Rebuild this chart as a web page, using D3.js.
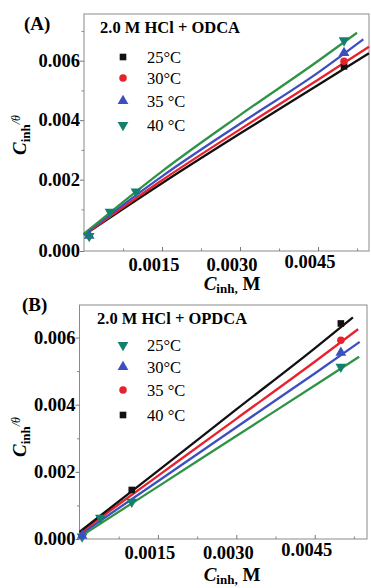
<!DOCTYPE html>
<html>
<head>
<meta charset="utf-8">
<script src="https://cdn.jsdelivr.net/npm/d3@7"></script>
<style>
  body { margin: 0; background: #fff; }
  svg { display: block; font-family: "Liberation Serif", "Times New Roman", serif; }
</style>
</head>
<body>
<svg id="chart" width="371" height="588"></svg>
<script>
// x ticks shared by both panels
const xTicks = [0.0015, 0.0030, 0.0045];
const xMinorTicks = [0.00075, 0.00225, 0.00375, 0.00525];
const yTickLabels = ["0.000", "0.002", "0.004", "0.006"];

// panel A: 2.0 M HCl + ODCA
const tempsA = ["25°C", "30°C", "35 °C", "40 °C"];
const yTicksA = [-0.0004, 0.002, 0.004, 0.006];
const yMinorA = [0.001, 0.003, 0.005, 0.007];
const lineA25 = [[0, 0.00014], [0.0015, 0.00188], [0.003, 0.00355], [0.0045, 0.00518], [0.00548, 0.00625]];
const lineA30 = [[0, 0.00014], [0.0015, 0.00198], [0.003, 0.00369], [0.0045, 0.00536], [0.00548, 0.00647]];
const lineA35 = [[0, 0.00016], [0.0015, 0.00211], [0.003, 0.00388], [0.0045, 0.0056], [0.00537, 0.00672]];
const lineA40 = [[0, 0.00018], [0.0015, 0.00228], [0.003, 0.00417], [0.0045, 0.00599], [0.00525, 0.00694]];
const markA25 = [[0.005, 0.00581]];
const markA30 = [[0.005, 0.00598]];
const markA35 = [[0.0001, 0.00012], [0.005, 0.00626]];
const markA40 = [[0.0001, 0.0001], [0.0005, 0.00092], [0.001, 0.0016], [0.005, 0.00668]];

// panel B: 2.0 M HCl + OPDCA
const tempsB = ["25°C", "30°C", "35 °C", "40 °C"];
const yTicksB = [0, 0.002, 0.004, 0.006];
const yMinorB = [0.001, 0.003, 0.005];
const lineB25 = [[0, 0.00006], [0.0015, 0.00156], [0.003, 0.00307], [0.0045, 0.00457], [0.00535, 0.00543]];
const lineB30 = [[0, 0.00012], [0.0015, 0.00172], [0.003, 0.00333], [0.0045, 0.00493], [0.00536, 0.00587]];
const lineB35 = [[0, 0.00018], [0.0015, 0.00188], [0.003, 0.00358], [0.0045, 0.00528], [0.00533, 0.00625]];
const lineB40 = [[0, 0.00021], [0.0015, 0.00203], [0.003, 0.00386], [0.0045, 0.00568], [0.00523, 0.0066]];
const markB25 = [[0.00005, 0.00007], [0.0004, 0.00063], [0.001, 0.00111], [0.005, 0.00513]];
const markB30 = [[0.00005, 0.0001], [0.005, 0.00555]];
const markB35 = [[0.005, 0.00592]];
const markB40 = [[0.001, 0.00146], [0.005, 0.00642]];

const colors = {
    black: "#111111",
    red: "#e8222c",
    blue: "#3d4fc0",
    green: "#2f9345",
    teal: "#13806e"
};

const square = {type: d3.symbolSquare, size: 44, rotate: 0};
const circle = {type: d3.symbolCircle, size: 44, rotate: 0};
const upTri = {type: d3.symbolTriangle, size: 50, rotate: 0};
const downTri = {type: d3.symbolTriangle, size: 50, rotate: 180};

const svg = d3.select("#chart");

function drawPanel(p) {
    const g = svg.append("g");

    const x = d3.scaleLinear().domain(p.xDomain).range([p.left, p.right]);
    const y = d3.scaleLinear().domain(p.yDomain).range([p.bottom, p.top]);

    // frame
    g.append("rect")
        .attr("x", p.left).attr("y", p.top)
        .attr("width", p.right - p.left).attr("height", p.bottom - p.top)
        .attr("fill", "none").attr("stroke", "#8a8a8a").attr("stroke-width", 1);

    // x axis: ticks point inside
    const xAxis = d3.axisBottom(x).tickValues(xTicks).tickSize(-4).tickFormat("");
    g.append("g").attr("transform", `translate(0,${p.bottom})`).call(xAxis)
        .call(a => a.select(".domain").remove())
        .call(a => a.selectAll("line").attr("stroke", "#777"));
    g.append("g").attr("transform", `translate(0,${p.bottom})`)
        .call(d3.axisBottom(x).tickValues(xMinorTicks).tickSize(-2.5).tickFormat(""))
        .call(a => a.select(".domain").remove())
        .call(a => a.selectAll("line").attr("stroke", "#888"));

    g.selectAll(".xlab").data(xTicks).join("text")
        .attr("x", d => x(d) - 8)
        .attr("y", (d, i) => p.bottom + (i === 2 ? 17 : 20))
        .attr("text-anchor", "middle")
        .attr("font-size", 18.5).attr("font-weight", "bold")
        .text(d => d3.format(".4f")(d));

    // y axis: ticks point outside
    g.append("g").attr("transform", `translate(${p.left},0)`)
        .call(d3.axisLeft(y).tickValues(p.yTicks).tickSize(4).tickFormat(""))
        .call(a => a.select(".domain").remove())
        .call(a => a.selectAll("line").attr("stroke", "#777"));
    g.append("g").attr("transform", `translate(${p.left},0)`)
        .call(d3.axisLeft(y).tickValues(p.yMinor).tickSize(2.5).tickFormat(""))
        .call(a => a.select(".domain").remove())
        .call(a => a.selectAll("line").attr("stroke", "#888"));

    g.selectAll(".ylab").data(p.yTicks).join("text")
        .attr("x", p.left - 4)
        .attr("y", d => y(d) + 6)
        .attr("text-anchor", "end")
        .attr("font-size", 18.5).attr("font-weight", "bold")
        .text((d, i) => yTickLabels[i]);

    // axis titles
    const xt = g.append("text")
        .attr("x", p.xTitleX).attr("y", p.xTitleY)
        .attr("text-anchor", "middle").attr("font-weight", "bold");
    xt.append("tspan").attr("font-style", "italic").attr("font-size", 19).text("C");
    xt.append("tspan").attr("font-size", 13).attr("dy", 3).text("inh,");
    xt.append("tspan").attr("font-size", 19).attr("dy", -3).text(" M");

    const yt = g.append("text")
        .attr("transform", `translate(${p.yTitleX},${p.yTitleY}) rotate(-90)`)
        .attr("text-anchor", "middle").attr("font-weight", "bold");
    yt.append("tspan").attr("font-style", "italic").attr("font-size", 19).text("C");
    yt.append("tspan").attr("font-size", 13).attr("dy", 4).text("inh");
    yt.append("tspan").attr("font-size", 12).attr("font-weight", "normal").attr("font-style", "italic").attr("dy", -10).text("/θ");

    // panel tag and legend title
    g.append("text")
        .attr("x", p.tagX).attr("y", p.tagY)
        .attr("font-size", 19).attr("font-weight", "bold")
        .text(p.tag);
    g.append("text")
        .attr("x", p.titleX).attr("y", p.titleY)
        .attr("font-size", 16.5).attr("font-weight", "bold")
        .text(p.title);

    // lines then markers
    const line = d3.line().curve(d3.curveMonotoneX).x(d => x(d[0])).y(d => y(d[1]));
    p.series.forEach(s => {
        g.append("path")
            .datum(s.line)
            .attr("d", line)
            .attr("fill", "none")
            .attr("stroke", s.lineColor)
            .attr("stroke-width", 2.3)
            .attr("stroke-linejoin", "round");
    });
    p.series.forEach(s => {
        g.selectAll(null).data(s.marks).join("path")
            .attr("d", d3.symbol().type(s.sym.type).size(s.sym.size))
            .attr("transform", d => `translate(${x(d[0])},${y(d[1])}) rotate(${s.sym.rotate})`)
            .attr("fill", s.markColor);
    });

    // legend
    p.legend.forEach((s, i) => {
        const ly = p.legendY[i];
        g.append("path")
            .attr("d", d3.symbol().type(s.sym.type).size(s.sym.size))
            .attr("transform", `translate(${p.legendX},${ly}) rotate(${s.sym.rotate})`)
            .attr("fill", s.markColor);
        g.append("text")
            .attr("x", p.legendX + 24).attr("y", ly + 6)
            .attr("font-size", 16.5)
            .text(s.name);
    });
}

const seriesA = [
    {name: tempsA[0], line: lineA25, marks: markA25, lineColor: colors.black, markColor: colors.black, sym: square},
    {name: tempsA[1], line: lineA30, marks: markA30, lineColor: colors.red, markColor: colors.red, sym: circle},
    {name: tempsA[2], line: lineA35, marks: markA35, lineColor: colors.blue, markColor: colors.blue, sym: upTri},
    {name: tempsA[3], line: lineA40, marks: markA40, lineColor: colors.green, markColor: colors.teal, sym: downTri}
];

const seriesB = [
    {name: tempsB[0], line: lineB25, marks: markB25, lineColor: colors.green, markColor: colors.teal, sym: downTri},
    {name: tempsB[1], line: lineB30, marks: markB30, lineColor: colors.blue, markColor: colors.blue, sym: upTri},
    {name: tempsB[2], line: lineB35, marks: markB35, lineColor: colors.red, markColor: colors.red, sym: circle},
    {name: tempsB[3], line: lineB40, marks: markB40, lineColor: colors.black, markColor: colors.black, sym: square}
];

drawPanel({
    left: 84, right: 369, top: 14, bottom: 251,
    xDomain: [0, 0.00548], yDomain: [-0.0004, 0.00757],
    yTicks: yTicksA, yMinor: yMinorA,
    xTitleX: 232, xTitleY: 290, yTitleX: 26, yTitleY: 135,
    tag: "(A)", tagX: 24, tagY: 30,
    title: "2.0 M HCl + ODCA", titleX: 100, titleY: 33,
    series: seriesA,
    legend: seriesA, legendX: 123, legendY: [57, 78, 101, 125]
});

drawPanel({
    left: 79.5, right: 367, top: 305, bottom: 539,
    xDomain: [0, 0.0055], yDomain: [0, 0.00697],
    yTicks: yTicksB, yMinor: yMinorB,
    xTitleX: 232, xTitleY: 581, yTitleX: 26, yTitleY: 437,
    tag: "(B)", tagX: 22, tagY: 311,
    title: "2.0 M HCl + OPDCA", titleX: 97, titleY: 324,
    series: seriesB,
    legend: seriesB, legendX: 123, legendY: [345, 367, 390, 415]
});
</script>
</body>
</html>
